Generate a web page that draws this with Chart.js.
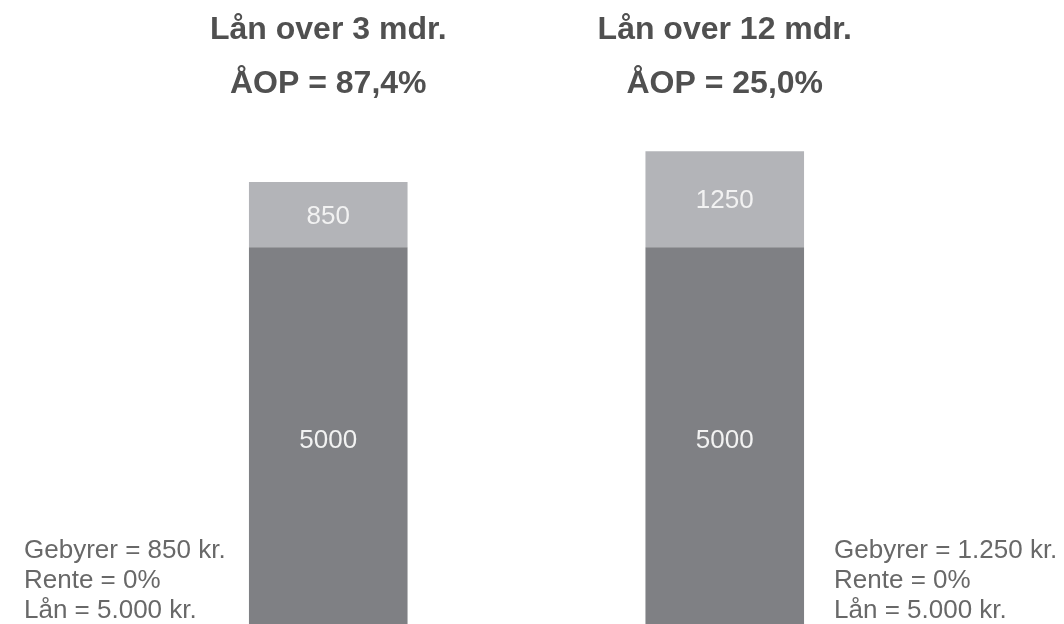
<!DOCTYPE html>
<html>
<head>
<meta charset="utf-8">
<script src="https://cdn.jsdelivr.net/npm/chart.js@4"></script>
<style>
  html, body { margin: 0; padding: 0; background: #fff; overflow: hidden; }
  #wrap { width: 1064px; height: 624px; overflow: hidden; position: relative; }
  canvas { display: block; }
</style>
</head>
<body>
<div id="wrap"><canvas id="chart" width="1064" height="631"></canvas></div>
<script>
const categories = ["Lån over 3 mdr.", "Lån over 12 mdr."];
const aopLabels = ["ÅOP = 87,4%", "ÅOP = 25,0%"];
const loanValues = [5000, 5000];
const feeValues = [850, 1250];
const notes = [
  ["Gebyrer = 850 kr.", "Rente = 0%", "Lån = 5.000 kr."],
  ["Gebyrer = 1.250 kr.", "Rente = 0%", "Lån = 5.000 kr."],
];

const FONT = '"Liberation Sans", Arial, sans-serif';

// titles above each bar, labels inside segments, notes beside the bars
const textPlugin = {
  id: "texts",
  afterDatasetsDraw(chart) {
    const ctx = chart.ctx;
    const xScale = chart.scales.x;
    ctx.save();

    // segment values
    ctx.font = "26px " + FONT;
    ctx.fillStyle = "#f2f2f2";
    ctx.textAlign = "center";
    ctx.textBaseline = "middle";
    chart.data.datasets.forEach((ds, di) => {
      const meta = chart.getDatasetMeta(di);
      meta.data.forEach((bar, i) => {
        const p = bar.getProps(["x", "y", "base"], true);
        ctx.fillText(String(ds.data[i]), p.x, (p.y + p.base) / 2 + 2);
      });
    });

    // titles
    ctx.font = "bold 32px " + FONT;
    ctx.fillStyle = "#505050";
    ctx.textBaseline = "alphabetic";
    categories.forEach((c, i) => {
      const x = xScale.getPixelForValue(i);
      ctx.fillText(c, x, 39);
      ctx.fillText(aopLabels[i], x, 93);
    });

    // notes
    ctx.font = "26px " + FONT;
    ctx.fillStyle = "#686868";
    ctx.textAlign = "left";
    const bars = chart.getDatasetMeta(0).data;
    const rightBar = bars[1].getProps(["x", "width"], true);
    const xs = [24, rightBar.x + rightBar.width / 2 + 30];
    notes.forEach((lines, i) => {
      lines.forEach((line, j) => {
        ctx.fillText(line, xs[i], 558 + j * 30);
      });
    });

    ctx.restore();
  },
};

new Chart(document.getElementById("chart"), {
  type: "bar",
  data: {
    labels: categories,
    datasets: [
      {
        label: "Lån",
        data: loanValues,
        backgroundColor: "#7f8084",
        borderWidth: 0,
      },
      {
        label: "Gebyrer",
        data: feeValues,
        backgroundColor: "#b3b4b8",
        borderWidth: 0,
      },
    ],
  },
  options: {
    responsive: false,
    animation: false,
    devicePixelRatio: 1,
    layout: { padding: { top: 132, left: 130, right: 141, bottom: 0 } },
    datasets: { bar: { barPercentage: 0.4, categoryPercentage: 1 } },
    scales: {
      x: { stacked: true, display: false },
      y: { stacked: true, display: false, min: 0, max: 6500 },
    },
    plugins: {
      legend: { display: false },
      tooltip: { enabled: false },
    },
  },
  plugins: [textPlugin],
});
</script>
</body>
</html>
